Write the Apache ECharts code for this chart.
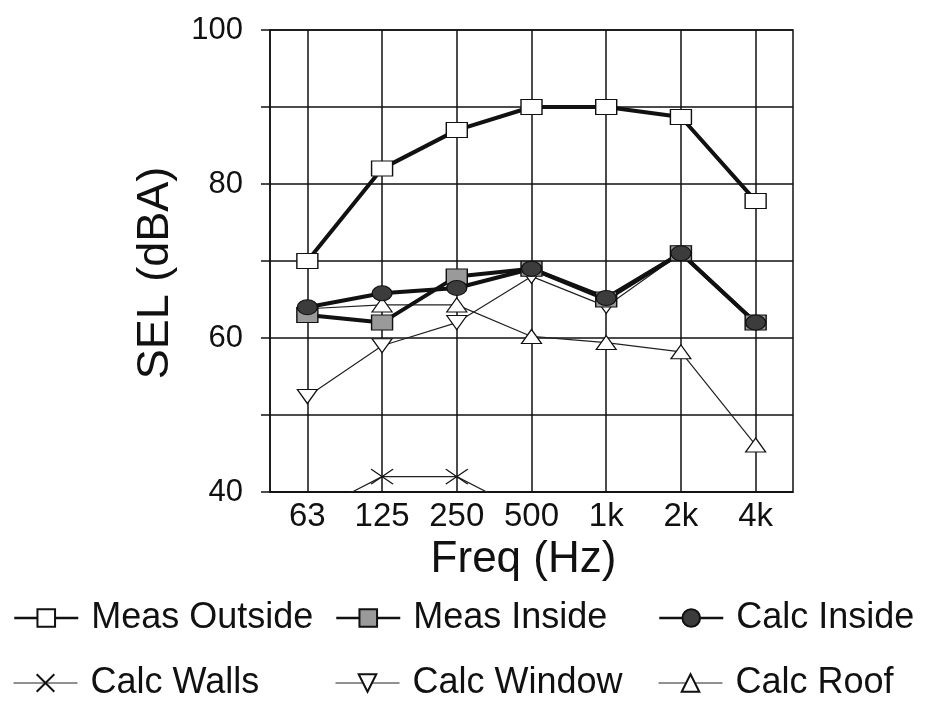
<!DOCTYPE html>
<html>
<head>
<meta charset="utf-8">
<script src="https://cdn.jsdelivr.net/npm/echarts@6/dist/echarts.min.js"></script>
<style>
	html, body{
		margin: 0;
		padding: 0;
		background: #fff;
	}
	#chart_box{
		width: 925px;
		height: 702px;
	}
</style>
</head>
<body>
<div id="chart_box"></div>
<script type="text/javascript">
// octave band centre frequencies
var categories = ['63', '125', '250', '500', '1k', '2k', '4k'];
var yTicks = [40, 50, 60, 70, 80, 90, 100];

// SEL values, dBA
var measOutside = [70, 82, 87, 90, 90, 88.7, 77.8];
var measInside = [63, 62, 68, 69, 65, 71, 62];
var calcInside = [64, 65.8, 66.5, 69, 65.2, 71, 62];
var calcWalls = [37, 42, 42, 37, null, null, null];
var calcWindow = [52.4, 59, 62, 68, 64.1, 71, 62];
var calcRoof = [63.8, 64.3, 64.3, 60.2, 59.4, 58.2, 46.1];

var font = '"Liberation Sans", Arial, Helvetica, sans-serif';
var myChart = echarts.init(document.getElementById('chart_box'));

function thick(name, data, symbol, size, fill) {
	return {
		name: name,
		type: 'line',
		data: data,
		symbol: symbol,
		symbolSize: size,
		showAllSymbol: true,
		lineStyle: { color: '#111', width: 4 },
		itemStyle: { color: fill, borderColor: '#111', borderWidth: 1.2 },
		emphasis: { disabled: true }
	};
}
function thin(name, data, symbol, size) {
	return {
		name: name,
		type: 'line',
		data: data,
		symbol: symbol,
		symbolSize: size,
		showAllSymbol: true,
		lineStyle: { color: '#222', width: 1.2 },
		itemStyle: { color: '#fff', borderColor: '#111', borderWidth: 1.2 },
		emphasis: { disabled: true }
	};
}

// one legend per entry so the 2x3 block lines up like the original
function legendAt(name, left, top, lineWidth) {
	return {
		left: left,
		top: top,
		padding: 0,
		itemWidth: 64,
		itemHeight: 22,
		selectedMode: false,
		data: [{ name: name, lineStyle: { width: lineWidth } }],
		textStyle: {
			fontFamily: font,
			fontSize: 36,
			lineHeight: 36,
			color: '#111',
			padding: [0, 0, 0, 8]
		}
	};
}

var option = {
	backgroundColor: '#fff',
	animation: false,
	grid: {
		left: 270,
		right: 132,
		top: 30,
		bottom: 210,
		show: true,
		borderColor: '#111',
		borderWidth: 1.5,
		backgroundColor: 'transparent'
	},
	legend: [
		legendAt('Meas Outside', 13, 600, 2.5),
		legendAt('Meas Inside', 335, 600, 2.5),
		legendAt('Calc Inside', 658, 600, 2.5),
		legendAt('Calc Walls', 13, 665, 1),
		legendAt('Calc Window', 335, 665, 1),
		legendAt('Calc Roof', 658, 665, 1)
	],
	xAxis: {
		type: 'category',
		data: categories,
		boundaryGap: true,
		name: 'Freq (Hz)',
		nameLocation: 'middle',
		nameGap: 42,
		nameTextStyle: { fontFamily: font, fontSize: 44, color: '#111', padding: [0, 16, 0, 0] },
		axisLine: { lineStyle: { color: '#111', width: 1.5 } },
		axisTick: { alignWithLabel: true, length: 12, lineStyle: { color: '#111', width: 1.5 } },
		axisLabel: { fontFamily: font, fontSize: 33, color: '#111', margin: 8, interval: 0 },
		splitLine: { show: true, alignWithLabel: true, lineStyle: { color: '#111', width: 1.5 } }
	},
	yAxis: {
		type: 'value',
		min: yTicks[0],
		max: yTicks[yTicks.length - 1],
		interval: 10,
		name: 'SEL (dBA)',
		nameLocation: 'middle',
		nameGap: 92,
		nameTextStyle: { fontFamily: font, fontSize: 45, color: '#111', padding: [0, 24, 0, 0] },
		axisLine: { show: true, lineStyle: { color: '#111', width: 1.5 } },
		axisTick: { show: true, length: 9, lineStyle: { color: '#111', width: 1.5 } },
		axisLabel: {
			fontFamily: font,
			fontSize: 31,
			color: '#111',
			margin: 27,
			formatter: function(v) { return v % 20 === 0 ? String(v) : ''; }
		},
		splitLine: { show: true, lineStyle: { color: '#111', width: 1.5 } }
	},
	series: [
		thin('Calc Walls', calcWalls, 'path://M0,0 L20,14 M0,14 L20,0 M0,0 L0,0', [22, 15]),
		thin('Calc Window', calcWindow, 'path://M0,0 L20,0 L10,14 Z', [20, 14]),
		thin('Calc Roof', calcRoof, 'triangle', [20, 14]),
		thick('Meas Outside', measOutside, 'rect', [21, 15], '#fff'),
		thick('Meas Inside', measInside, 'rect', [21, 15], '#9a9a9a'),
		thick('Calc Inside', calcInside, 'circle', [20, 15], '#3c3c3c')
	]
};
myChart.setOption(option);
</script>
</body>
</html>
